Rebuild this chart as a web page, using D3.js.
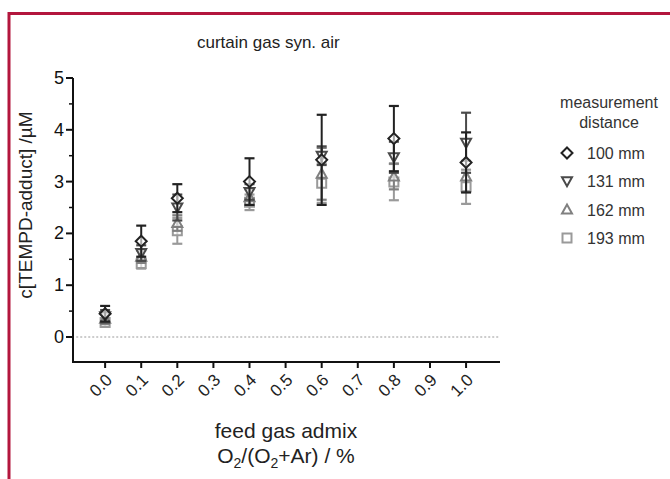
<!DOCTYPE html>
<html><head><meta charset="utf-8">
<script src="https://cdn.jsdelivr.net/npm/d3@7/dist/d3.min.js"></script>
<style>body{margin:0;background:#fff;}svg{display:block;font-family:"Liberation Sans",Arial,sans-serif;}</style>
</head><body>
<svg id="c" width="670" height="479"></svg>
<script>
const xTicks = [0.0,0.1,0.2,0.3,0.4,0.5,0.6,0.7,0.8,0.9,1.0];
const xTickLabels = ["0.0","0.1","0.2","0.3","0.4","0.5","0.6","0.7","0.8","0.9","1.0"];
const yTicks = [0,1,2,3,4,5];
const xValues = [0.0,0.1,0.2,0.4,0.6,0.8,1.0];
const seriesNames = ["100 mm","131 mm","162 mm","193 mm"];
const mean100 = [0.45,1.85,2.68,3.00,3.42,3.83,3.37];
const err100  = [0.15,0.30,0.27,0.45,0.87,0.63,0.58];
const mean131 = [0.40,1.62,2.50,2.80,3.50,3.47,3.75];
const err131  = [0.12,0.15,0.25,0.15,0.18,0.30,0.58];
const mean162 = [0.35,1.55,2.20,2.70,3.15,3.10,3.10];
const err162  = [0.10,0.12,0.15,0.15,0.50,0.25,0.30];
const mean193 = [0.28,1.42,2.05,2.60,2.97,2.99,2.90];
const err193  = [0.08,0.10,0.25,0.15,0.38,0.35,0.33];

const series = [
  {name:seriesNames[0], mean:mean100, err:err100, color:"#222", sym:"diamond"},
  {name:seriesNames[1], mean:mean131, err:err131, color:"#4a4a4a", sym:"tdown"},
  {name:seriesNames[2], mean:mean162, err:err162, color:"#808080", sym:"tup"},
  {name:seriesNames[3], mean:mean193, err:err193, color:"#9a9a9a", sym:"square"}
];

const svg = d3.select("#c");
svg.append("path").attr("d","M9,479 L9,13.5 L670,13.5").attr("fill","none").attr("stroke","#b3163d").attr("stroke-width",3);

const x = d3.scaleLinear().domain([-0.089,1.094]).range([73,500]);
const y = d3.scaleLinear().domain([0,5]).range([337,78]);
const yBottom = 362;

svg.append("line").attr("x1",x(-0.08)).attr("x2",x(1.09)).attr("y1",y(0)).attr("y2",y(0))
  .attr("stroke","#999").attr("stroke-width",1).attr("stroke-dasharray","2,2");

const yAxis = svg.append("g");
yAxis.append("line").attr("x1",73).attr("x2",73).attr("y1",y(5)).attr("y2",yBottom).attr("stroke","#111").attr("stroke-width",2);
yAxis.selectAll(".mj").data(yTicks).join("line").attr("x1",66).attr("x2",73).attr("y1",d=>y(d)).attr("y2",d=>y(d)).attr("stroke","#111").attr("stroke-width",2);
yAxis.selectAll(".mn").data(yTicks.slice(0,-1).map(d=>d+0.5)).join("line").attr("x1",69).attr("x2",73).attr("y1",d=>y(d)).attr("y2",d=>y(d)).attr("stroke","#111").attr("stroke-width",1.5);
yAxis.selectAll("text").data(yTicks).join("text").attr("x",64).attr("y",d=>y(d)+6).attr("text-anchor","end")
  .attr("font-size",18).attr("fill","#111").text(d=>d);

const xAxis = svg.append("g");
xAxis.append("line").attr("x1",72).attr("x2",500).attr("y1",yBottom).attr("y2",yBottom).attr("stroke","#111").attr("stroke-width",2);
xAxis.selectAll("line.t").data(xTicks).join("line").attr("class","t").attr("x1",d=>x(d)).attr("x2",d=>x(d)).attr("y1",yBottom).attr("y2",yBottom+6).attr("stroke","#111").attr("stroke-width",2);
xAxis.selectAll("text").data(xTicks).join("text")
  .attr("transform",d=>`translate(${x(d)+8},${yBottom+19}) rotate(-45)`)
  .attr("text-anchor","end").attr("font-size",17).attr("fill","#222").text((d,i)=>xTickLabels[i]);

svg.append("text").attr("x",197).attr("y",48).attr("text-anchor","start").attr("font-size",17).attr("fill","#222").text("curtain gas syn. air");
svg.append("text").attr("transform","translate(32,205) rotate(-90)").attr("text-anchor","middle").attr("font-size",19).attr("fill","#222").text("c[TEMPD-adduct] /µM");
svg.append("text").attr("x",286).attr("y",438).attr("text-anchor","middle").attr("font-size",21).attr("fill","#222").text("feed gas admix");
const t2 = svg.append("text").attr("x",286).attr("y",463).attr("text-anchor","middle").attr("font-size",21).attr("fill","#222");
t2.append("tspan").text("O");
t2.append("tspan").attr("font-size",14).attr("dy",5).text("2");
t2.append("tspan").attr("dy",-5).text("/(O");
t2.append("tspan").attr("font-size",14).attr("dy",5).text("2");
t2.append("tspan").attr("dy",-5).text("+Ar) / %");

function symPath(sym){
  if(sym==="diamond") return "M0,-5.5 L5.5,0 L0,5.5 L-5.5,0 Z";
  if(sym==="tdown") return "M-5,-4 L5,-4 L0,5 Z";
  if(sym==="tup") return "M-5,4 L5,4 L0,-5 Z";
  return "M-4.5,-4.5 L4.5,-4.5 L4.5,4.5 L-4.5,4.5 Z";
}

const plot = svg.append("g");
series.slice().reverse().forEach(s=>{
  const g = plot.append("g");
  xValues.forEach((xv,i)=>{
    const cx = x(xv), lo = y(s.mean[i]-s.err[i]), hi = y(s.mean[i]+s.err[i]);
    g.append("line").attr("x1",cx).attr("x2",cx).attr("y1",lo).attr("y2",hi).attr("stroke",s.color).attr("stroke-width",2);
    [lo,hi].forEach(yy=>g.append("line").attr("x1",cx-5).attr("x2",cx+5).attr("y1",yy).attr("y2",yy).attr("stroke",s.color).attr("stroke-width",2.2));
    g.append("path").attr("d",symPath(s.sym)).attr("transform",`translate(${cx},${y(s.mean[i])})`)
      .attr("fill","#fff").attr("fill-opacity",0.6).attr("stroke",s.color).attr("stroke-width",2);
  });
});

const lg = svg.append("g");
lg.append("text").attr("x",609).attr("y",108).attr("text-anchor","middle").attr("font-size",16).attr("fill","#333").text("measurement");
lg.append("text").attr("x",609).attr("y",128).attr("text-anchor","middle").attr("font-size",16).attr("fill","#333").text("distance");
series.forEach((s,i)=>{
  const yy = 153 + i*28.3;
  lg.append("path").attr("d",symPath(s.sym)).attr("transform",`translate(567,${yy})`).attr("fill","#fff").attr("stroke",s.color).attr("stroke-width",2);
  lg.append("text").attr("x",587).attr("y",yy+6).attr("font-size",16).attr("fill","#333").text(s.name);
});
</script>
</body></html>
